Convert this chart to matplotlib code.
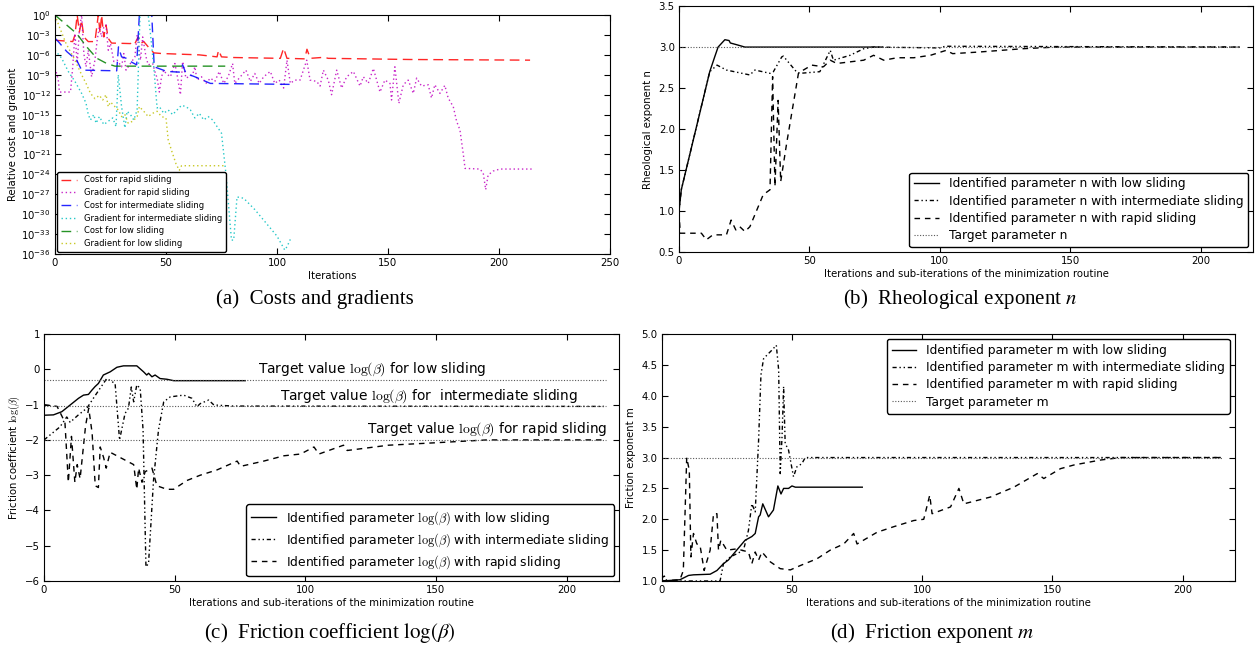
import numpy as np
import matplotlib
matplotlib.use("Agg")
import matplotlib.pyplot as plt

plt.rcParams.update({
    "font.family": "DejaVu Sans",
    "mathtext.fontset": "dejavusans",
    "xtick.direction": "in", "ytick.direction": "in",
    "xtick.top": True, "ytick.right": True,
    "xtick.major.size": 4, "ytick.major.size": 4,
    "xtick.minor.visible": False, "ytick.minor.visible": False,
    "xtick.major.pad": 3, "ytick.major.pad": 3,
    "xtick.labelsize": 7.3, "ytick.labelsize": 7.3,
    "axes.labelsize": 7.3,
    "legend.fancybox": True, "legend.edgecolor": "black", "legend.framealpha": 1,
})

# ---- (a) costs and gradients, values read as log10 of the curve ----
it_cost_rapid = [0, 8, 9, 10, 11, 12, 13, 15, 18, 19.5, 20.3, 21, 22, 23, 24, 25.5, 34, 35, 36, 37.5,
                 38.5, 40, 42, 44.5, 48, 65, 73, 73.7, 75, 80, 101.5, 103, 104.5, 112.5, 113.5, 115,
                 120, 121, 123, 160, 214]
cost_rapid = [1.6e-4, 1e-4, 1e-3, 1.0, 3e-3, 0.16, 5e-4, 1e-4, 1e-4, 1.0, 2e-3, 1.0, 5e-4, 3e-2, 3e-4,
              6e-5, 5e-5, 1e-4, 5e-5, 5e-4, 5e-5, 1e-4, 1.6e-5, 2e-6, 1.6e-6, 1e-6, 5e-7, 5e-6, 5e-7,
              4e-7, 3e-7, 1e-5, 3e-7, 2.5e-7, 7e-6, 3e-7, 4e-7, 5e-7, 3e-7, 2e-7, 1.6e-7]

it_grad_rapid = [0, 0.5, 1.5, 2, 7, 8, 9, 10, 11, 12, 13, 14, 15, 16.5, 18, 19, 20, 21, 22, 23, 24, 25,
                 26.5, 28, 30, 31, 32, 34, 36, 37, 38.5, 39.5, 41, 42, 44, 45, 46, 47, 48, 49, 50, 52,
                 54, 55, 56.5, 57.5, 59, 62, 63, 64, 66, 68, 70, 72, 74, 76, 78, 80, 81, 83, 86, 88,
                 90, 92, 94, 97, 99, 101, 103, 104.5, 106, 108, 110.4, 113.4, 114.9, 117.9, 119.4,
                 120.9, 123.1, 124.6, 126.9, 129.1, 131.4, 134.4, 137.4, 138.9, 141.1, 143.4, 146.4,
                 148.6, 150.9, 151.6, 153.1, 154.9, 156.9, 159.1, 161.4, 162.9, 165.1, 168.1, 169.6,
                 171.1, 173.4, 175.6, 177.1, 179.4, 180.9, 182.4, 183.9, 184.7, 191.4, 192.9, 194,
                 195.1, 197.4, 200.4, 215]
grad_rapid_exp = [-8, -8.5, -9.8, -11.6, -11.6, -7.8, -2.8, -7.3, -2.3, 0, -5.8, -7.8, -5.3, -9.3,
                  -6.8, -3.8, -1.8, -3.3, -1.8, -1.5, -5.3, -4.3, -7, -6.8, -7.8, -5.8, -8.3, -7.3,
                  -6.3, -3, -6.8, -3.3, -6.3, -7.5, -7.3, -8.5, -9.5, -11.6, -9.3, -8.3, -8.8, -9.3,
                  -7.3, -9, -12, -7, -9.5, -9, -7.8, -9.8, -9.3, -10.3, -9.5, -10, -8.5, -10.3,
                  -9.3, -7.3, -10.3, -9.5, -8.3, -10, -8.8, -10.3, -9.3, -8.5, -10.3, -9.8, -11,
                  -6.8, -10.3, -9.8, -9.8, -6.8, -9.8, -10, -10.7, -8.3, -9.8, -12, -8.3, -11,
                  -9.3, -8.5, -10.7, -9.3, -10.3, -8.05, -11.6, -9.8, -10.3, -12.8, -7.8, -13.3,
                  -10.5, -9.8, -11.8, -9.5, -10.7, -10.5, -12.5, -10.5, -11.8, -10.6, -12.5, -13.8,
                  -16, -17.3, -20.9, -23.1, -23.2, -23.8, -26.3, -24.1, -23.5, -23.2, -23.2]

it_cost_inter = [0, 1.5, 5.3, 9.8, 12, 27.8, 28.6, 30, 32, 34, 36.8, 38, 43.6, 44.7, 50.4, 56, 57.5,
                 59, 63, 70, 107]
cost_inter_exp = [-3.5, -4, -5.5, -6.8, -8.3, -8.4, -4.8, -6.3, -6.5, -7, -7.5, 0, 0, -7.8, -8.5,
                  -8.6, -7.5, -8.8, -9.3, -10.3, -10.45]

it_grad_inter = [0, 3, 6, 9, 12, 14, 15, 16, 17.5, 18.5, 20, 22, 24, 26, 27.5, 28.5, 30, 31.5, 32.5,
                 34, 35.5, 37, 38.3, 42, 43, 44.5, 46, 47, 49, 51, 53, 55, 57, 59, 61, 63, 65, 67,
                 69, 71, 73, 75, 77, 78, 79.5, 80.5, 82, 85, 90, 95, 100, 103.5, 104.5, 106]
grad_inter_exp = [-5.3, -6.5, -8.5, -10, -11.8, -13.3, -15, -15.8, -15, -16.3, -15.3, -16.5, -16,
                  -15.5, -16.8, -9, -13.8, -17, -14.5, -15, -15.8, -14.3, 0, 0, -2.8, -7.8, -14,
                  -13.8, -14.8, -14.3, -15, -14.3, -13.6, -13.8, -14.3, -15.5, -14.8, -15.8, -15.3,
                  -15.8, -16.8, -17.8, -23.9, -27.9, -33.9, -33.9, -27.4, -27.6, -29.3, -31.3,
                  -33.3, -35.4, -34.9, -33.8]

it_cost_low = [0, 9.8, 14.3, 18.8, 23.3, 27, 76.7]
cost_low_exp = [0, -2.8, -4.8, -6.5, -7.3, -7.7, -7.7]

it_grad_low = [0, 2, 5, 9, 12, 14, 16, 18, 20, 21.5, 23, 24, 25, 27, 28.5, 30, 31.5, 33, 35, 37, 38,
               40, 42, 44, 46, 48, 50, 51, 52.5, 54.5, 56, 57, 76]
grad_low_exp = [0, -1.8, -4.3, -6.8, -9, -10.3, -11.8, -12.6, -12.1, -12.8, -12, -13.8, -13.1, -13.8,
                -14.3, -15.3, -15, -16.3, -16, -15.3, -13.8, -14.5, -15.3, -14.8, -14.5, -15.3,
                -15.5, -18.8, -20.4, -22.4, -23.4, -22.7, -22.7]

# ---- (b) rheological exponent n ----
n_target = 3.0
n_low_x = [0, 0.9, 11.8, 13.7, 15, 17.6, 19.2, 19.7, 22, 25.3, 78]
n_low = [0.99, 1.26, 2.70, 2.88, 3.0, 3.09, 3.08, 3.05, 3.03, 3.0, 3.0]
n_int_x = [0, 0.9, 11.8, 14.6, 18.2, 27.2, 29.1, 34.9, 36.2, 39.4, 40, 45, 46.4, 54, 58, 59.2,
           65.6, 70.8, 74.6, 100, 102, 215]
n_int = [0.99, 1.26, 2.70, 2.78, 2.72, 2.66, 2.72, 2.68, 2.70, 2.88, 2.89, 2.70, 2.68, 2.70, 2.96,
         2.84, 2.90, 2.98, 3.0, 2.99, 3.01, 3.0]
n_rapid_x = [0, 0.5, 8.6, 10.5, 13, 18.2, 20, 21.8, 23.3, 25.3, 27.2, 32.3, 34.9, 35.9, 36.8, 38, 39,
             41.3, 45.8, 47.7, 50.9, 55.4, 58, 60.5, 65.6, 70.8, 74.6, 78.5, 83.6, 90, 96.4, 102.4,
             104.9, 115.1, 131.7, 144.4, 215]
n_rapid = [0.99, 0.73, 0.73, 0.65, 0.71, 0.71, 0.89, 0.77, 0.81, 0.75, 0.81, 1.20, 1.26, 2.64, 1.30,
           2.35, 1.36, 1.83, 2.68, 2.72, 2.78, 2.76, 2.84, 2.80, 2.82, 2.84, 2.90, 2.84, 2.87, 2.87,
           2.90, 2.96, 2.92, 2.94, 2.98, 3.0, 3.0]

# ---- (c) friction coefficient log(beta) ----
beta_targets = [-0.3, -1.05, -2.0]
beta_low_x = [0, 3.6, 6.8, 10, 13.2, 15.1, 17, 18.3, 19.5, 20.8, 22.7, 25.3, 27.9, 30.4, 35.5, 38.1,
              39.3, 40, 41.3, 42.5, 44.4, 47, 49.6, 77]
beta_low = [-1.30, -1.29, -1.2, -1.01, -0.82, -0.73, -0.71, -0.59, -0.49, -0.40, -0.16, -0.07, 0.06,
            0.10, 0.10, -0.07, -0.16, -0.11, -0.21, -0.16, -0.26, -0.28, -0.32, -0.32]
beta_int_x = [0, 6.1, 8.7, 10, 13, 16.4, 19.5, 24, 27.2, 28.9, 31, 32.3, 33.4, 34.3, 35.5, 36.8,
              37.9, 39, 40, 41.9, 43.8, 45.8, 48.3, 53.4, 56.6, 58.5, 59.8, 63, 65, 72.5, 215]
beta_int = [-2.0, -1.63, -1.35, -1.5, -1.3, -1.1, -0.75, -0.26, -0.4, -2.0, -1.25, -1.1, -0.5,
            -0.92, -0.44, -0.54, -1.72, -5.6, -5.5, -3.14, -1.72, -0.92, -0.78, -0.73, -0.82,
            -1.06, -0.97, -0.87, -1.01, -1.04, -1.05]
beta_rapid_x = [0, 5, 8, 9.3, 10.5, 11.8, 12.7, 13.8, 15.9, 17.1, 18.4, 19.6, 20.8, 21.5, 22.8,
                23.8, 25.3, 34.3, 35.5, 36.2, 37.5, 38.7, 41.3, 43.2, 47, 49.6, 54.7, 59.8, 66.2,
                73.9, 75.2, 84.1, 91.8, 98.2, 103.3, 105.2, 114.6, 116, 131.8, 150, 169.5, 215]
beta_rapid = [-1.0, -1.05, -1.5, -3.2, -1.9, -3.2, -2.7, -3.1, -1.6, -1.1, -1.8, -3.3, -3.35, -2.2,
              -2.5, -2.8, -2.35, -2.7, -3.4, -2.8, -3.2, -2.9, -2.8, -3.3, -3.4, -3.4, -3.15, -3.0,
              -2.85, -2.6, -2.75, -2.6, -2.45, -2.4, -2.2, -2.4, -2.15, -2.3, -2.15, -2.08, -2.0,
              -2.0]

# ---- (d) friction exponent m ----
m_target = 3.0
m_low_x = [0, 7, 10.3, 12.2, 18.6, 21.2, 23.7, 25.6, 28.8, 32, 34.6, 35.9, 37.2, 37.8, 38.8, 41,
           42.9, 44.6, 45.8, 46.8, 48.7, 50, 51.3, 77]
m_low = [1.0, 1.02, 1.09, 1.1, 1.11, 1.17, 1.28, 1.34, 1.5, 1.66, 1.72, 1.77, 2.04, 2.07, 2.25, 2.04,
         2.15, 2.54, 2.41, 2.5, 2.5, 2.54, 2.52, 2.52]
m_int_x = [0, 1, 2, 22.4, 23.7, 26.3, 28.8, 31.4, 33.3, 34.6, 35.9, 37.2, 38.1, 39.1, 40.4, 42.3, 44,
           44.9, 45.5, 46.2, 46.8, 47.4, 48.7, 50.6, 51.9, 53.8, 55.1, 215]
m_int = [1.05, 1.08, 1.0, 1.0, 1.28, 1.39, 1.44, 1.5, 1.82, 2.25, 2.12, 3.28, 4.34, 4.6, 4.66, 4.74,
         4.82, 4.42, 2.74, 3.34, 4.15, 3.23, 3.12, 2.69, 2.85, 2.9, 3.0, 3.0]
m_rapid_x = [0, 7, 8.3, 9.6, 10.6, 11.2, 12.2, 13.5, 14.7, 16.3, 18.6, 19.9, 21.2, 21.8, 22.7, 25,
             28.8, 33.3, 34.6, 35.9, 37.2, 38.5, 41.7, 45.5, 49.4, 53.2, 59.6, 64.7, 69.9, 73.7, 75,
             82.7, 89.1, 96.8, 100.6, 102.9, 103.8, 110.9, 114.1, 116, 126.2, 135.2, 144.2, 146.7,
             153.1, 158.3, 168.5, 176.2, 215]
m_rapid = [1.0, 1.02, 1.17, 3.0, 2.79, 1.39, 1.77, 1.6, 1.58, 1.17, 1.5, 2.09, 2.09, 1.5, 1.66, 1.5,
           1.52, 1.47, 1.28, 1.47, 1.34, 1.47, 1.31, 1.2, 1.18, 1.25, 1.36, 1.5, 1.6, 1.77, 1.6,
           1.79, 1.88, 1.98, 2.0, 2.39, 2.09, 2.2, 2.5, 2.25, 2.36, 2.52, 2.74, 2.66, 2.82, 2.88,
           2.96, 3.0, 3.0]

target_end = 215
DASH = (0, (4, 3.5))
DASHDOTDOT = (0, (3, 2, 1, 2, 1, 2))
DOT = (0, (1, 1.5))
xlabel_it = "Iterations and sub-iterations of the minimization routine"

fig = plt.figure(figsize=(12.58, 6.48), dpi=100)

# ---------- (a) ----------
ax = fig.add_axes([0.0437, 0.608, 0.4412, 0.3688])
ax.set_yscale("log")
ax.plot(it_cost_rapid, cost_rapid, color="r", ls=(0, (7, 4)), lw=1, alpha=0.85,
        label="Cost for rapid sliding")
ax.plot(it_grad_rapid, 10.0 ** np.array(grad_rapid_exp), color=(0.75, 0, 0.75), ls=(0, (1, 2)),
        lw=1, alpha=0.85, label="Gradient for rapid sliding")
ax.plot(it_cost_inter, 10.0 ** np.array(cost_inter_exp), color="b", ls=(0, (7, 4)), lw=1,
        alpha=0.85, label="Cost for intermediate sliding")
ax.plot(it_grad_inter, 10.0 ** np.array(grad_inter_exp), color=(0, 0.75, 0.75), ls=(0, (1, 2)),
        lw=1, alpha=0.85, label="Gradient for intermediate sliding")
ax.plot(it_cost_low, 10.0 ** np.array(cost_low_exp), color="g", ls=(0, (7, 4)), lw=1, alpha=0.85,
        label="Cost for low sliding")
ax.plot(it_grad_low, 10.0 ** np.array(grad_low_exp), color=(0.75, 0.75, 0), ls=(0, (1, 2)), lw=1,
        alpha=0.85, label="Gradient for low sliding")
ax.set_xlim(0, 250)
ax.set_ylim(1e-36, 1e0)
ax.set_xticks([0, 50, 100, 150, 200, 250])
yt = [10.0 ** -k for k in range(0, 37, 3)]
ax.set_yticks(yt)
ax.set_yticklabels([r"$10^{%d}$" % (-k) if k else r"$10^{0}$" for k in range(0, 37, 3)])
ax.minorticks_off()
ax.set_xlabel("Iterations", labelpad=2)
ax.set_ylabel("Relative cost and gradient", labelpad=2)
ax.legend(loc="lower left", fontsize=6.0, borderaxespad=0.3, handlelength=2, labelspacing=0.45)

# ---------- (b) ----------
ax = fig.add_axes([0.5397, 0.611, 0.4563, 0.3796])
ax.plot(n_low_x, n_low, color="k", lw=1, label="Identified parameter n with low sliding")
ax.plot(n_int_x, n_int, color="k", lw=1, ls=DASHDOTDOT,
        label="Identified parameter n with intermediate sliding")
ax.plot(n_rapid_x, n_rapid, color="k", lw=1, ls=DASH, label="Identified parameter n with rapid sliding")
ax.plot([0, target_end], [n_target, n_target], color="0.35", lw=0.8, ls=DOT, label="Target parameter n")
ax.set_xlim(0, 220)
ax.set_ylim(0.5, 3.5)
ax.set_xticks([0, 50, 100, 150, 200])
ax.set_xlabel(xlabel_it, labelpad=2)
ax.set_ylabel("Rheological exponent n")
ax.legend(loc="lower right", fontsize=8.8, borderaxespad=0.4, labelspacing=0.35)

# ---------- (c) ----------
ax = fig.add_axes([0.035, 0.1034, 0.457, 0.381])
ax.plot(beta_low_x, beta_low, color="k", lw=1, label=r"Identified parameter $\log(\beta)$ with low sliding")
ax.plot(beta_int_x, beta_int, color="k", lw=1, ls=DASHDOTDOT,
        label=r"Identified parameter $\log(\beta)$ with intermediate sliding")
ax.plot(beta_rapid_x, beta_rapid, color="k", lw=1, ls=DASH,
        label=r"Identified parameter $\log(\beta)$ with rapid sliding")
for t in beta_targets:
    ax.plot([0, target_end], [t, t], color="0.35", lw=0.8, ls=DOT)
ax.text(125.5, 0.0, r"Target value $\log(\beta)$ for low sliding", fontsize=9.9, ha="center",
        va="center", math_fontfamily="cm")
ax.text(147.4, -0.76, r"Target value $\log(\beta)$ for  intermediate sliding", fontsize=9.9,
        ha="center", va="center", math_fontfamily="cm")
ax.text(169.5, -1.69, r"Target value $\log(\beta)$ for rapid sliding", fontsize=9.9, ha="center",
        va="center", math_fontfamily="cm")
ax.set_xlim(0, 220)
ax.set_ylim(-6, 1)
ax.set_xticks([0, 50, 100, 150, 200])
ax.set_xlabel(xlabel_it, labelpad=2)
yl = ax.set_ylabel(r"Friction coefficient $\log(\beta)$", labelpad=2)
yl.set_math_fontfamily("cm")
leg = ax.legend(loc="lower right", fontsize=8.9, borderaxespad=0.4, labelspacing=0.35)
for t in leg.get_texts():
    t.set_math_fontfamily("cm")

# ---------- (d) ----------
ax = fig.add_axes([0.526, 0.1034, 0.4555, 0.381])
ax.plot(m_low_x, m_low, color="k", lw=1, label="Identified parameter m with low sliding")
ax.plot(m_int_x, m_int, color="k", lw=1, ls=DASHDOTDOT,
        label="Identified parameter m with intermediate sliding")
ax.plot(m_rapid_x, m_rapid, color="k", lw=1, ls=DASH, label="Identified parameter m with rapid sliding")
ax.plot([0, target_end], [m_target, m_target], color="0.35", lw=0.8, ls=DOT, label="Target parameter m")
ax.set_xlim(0, 220)
ax.set_ylim(1.0, 5.0)
ax.set_xticks([0, 50, 100, 150, 200])
ax.set_xlabel(xlabel_it, labelpad=2)
ax.set_ylabel("Friction exponent m")
ax.legend(loc="upper right", fontsize=8.8, borderaxespad=0.4, labelspacing=0.35)

# ---------- captions ----------
cap = dict(fontsize=15, family="Liberation Serif", ha="center", va="center", math_fontfamily="stix")
fig.text(315 / 1258, 1 - 299 / 648, "(a)  Costs and gradients", **cap)
fig.text(960 / 1258, 1 - 299 / 648, "(b)  Rheological exponent $n$", **cap)
fig.text(330 / 1258, 1 - 633 / 648, r"(c)  Friction coefficient $\log(\beta)$", **cap)
fig.text(932 / 1258, 1 - 633 / 648, "(d)  Friction exponent $m$", **cap)

fig.savefig("out.png", dpi=100)
